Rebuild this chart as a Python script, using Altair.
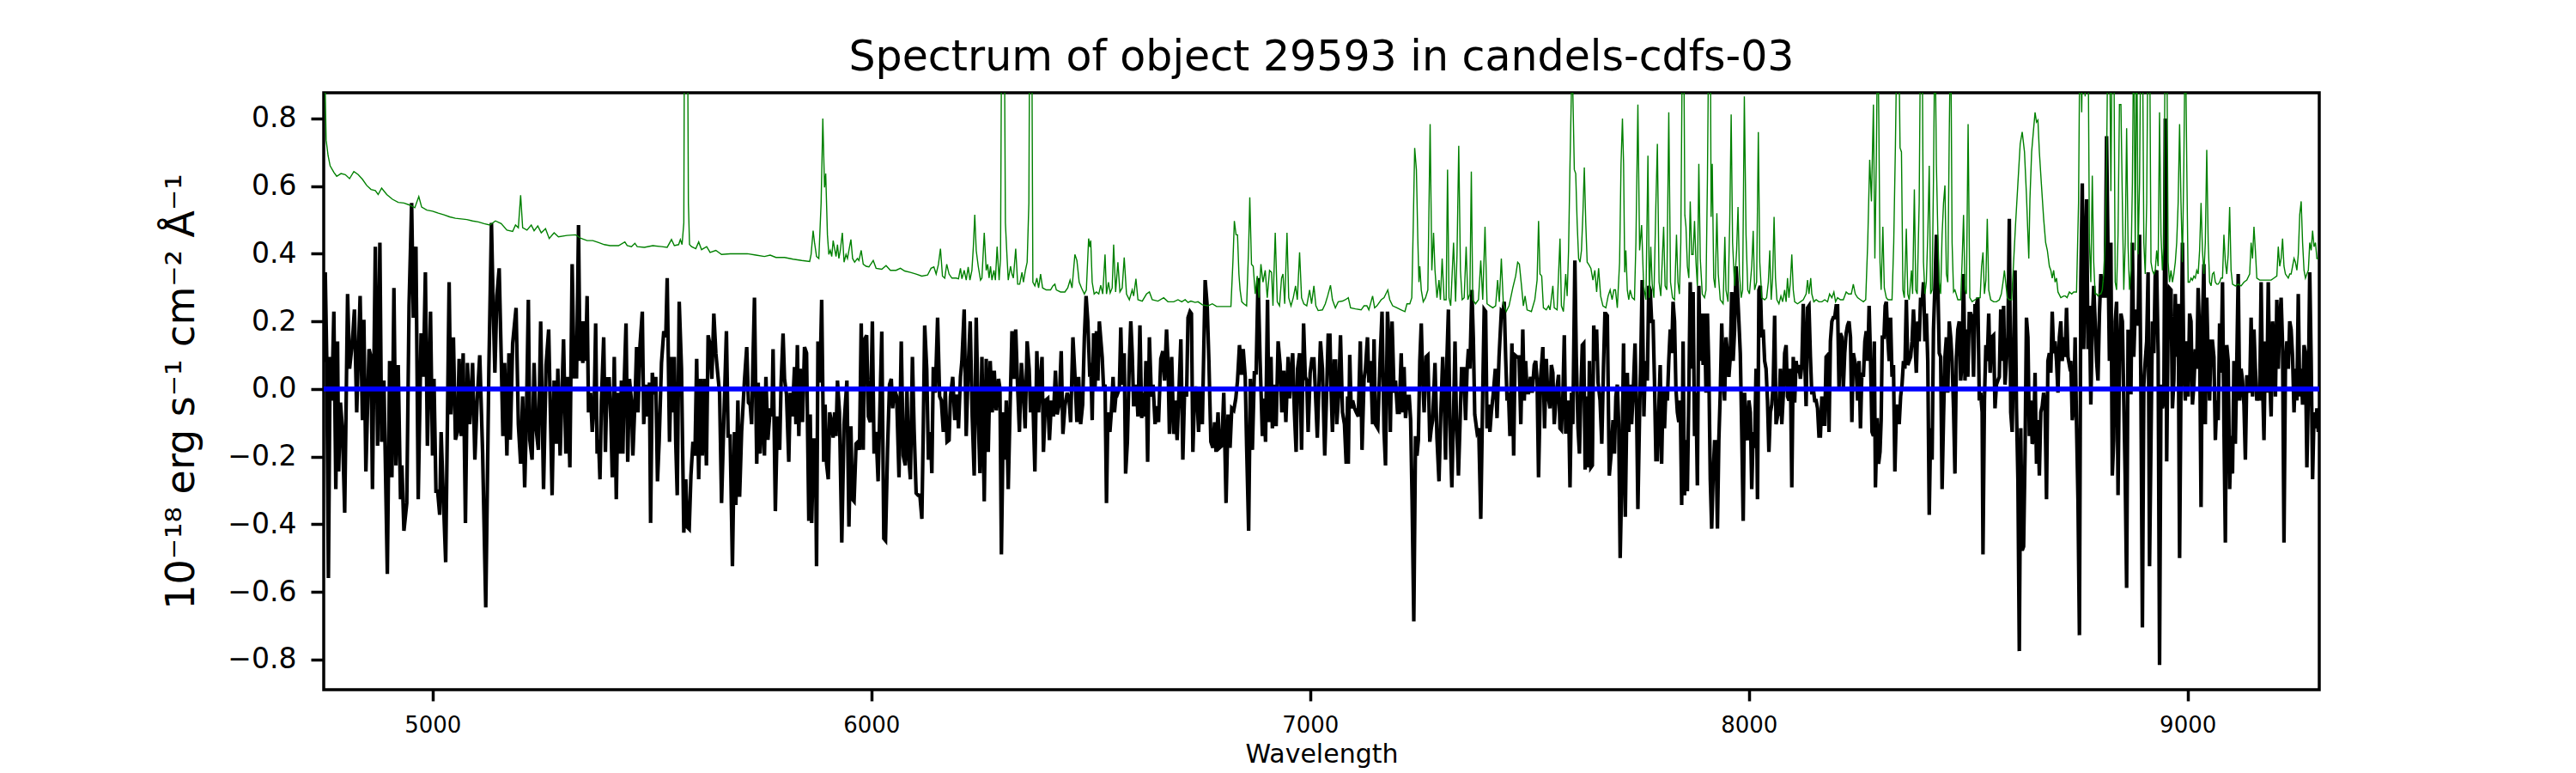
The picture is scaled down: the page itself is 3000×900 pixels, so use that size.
import altair as alt
import pandas as pd

TITLE = "Spectrum of object 29593 in candels-cdfs-03"
X_TITLE = "Wavelength"
Y_TITLE = "10⁻¹⁸ erg s⁻¹ cm⁻² Å⁻¹"
X_TICKS = [5000, 6000, 7000, 8000, 9000]
Y_TICKS = [-0.8, -0.6, -0.4, -0.2, 0.0, 0.2, 0.4, 0.6, 0.8]
X_DOMAIN = [4752, 9300]
Y_DOMAIN = [-0.889, 0.876]
ZERO_LEVEL = [0.0]

# ---- object flux (black), (wavelength, flux) ----
flux_4750 = [(4752.0,0.08),(4755.5,0.345),(4758.8,0.095),(4762.7,-0.559),(4766.6,0.095),(4770.5,-0.034),(4775.1,0.229),(4779.6,-0.296),(4783.5,0.141),(4786.1,-0.244),(4790.1,-0.04),(4794.6,-0.116),(4799.8,-0.366),(4806.4,0.281),(4810.9,0.06),(4817.4,0.141),(4822.0,0.235),(4827.2,-0.069),(4830.5,0.083),(4835.0,0.275),(4840.3,-0.092),(4843.5,0.205),(4848.1,-0.244),(4855.3,0.118),(4859.8,0.095),(4863.1,-0.296),(4869.6,0.421),(4874.8,-0.168),(4880.0,0.433),(4884.0,-0.156),(4889.2,0.025),(4897.0,-0.547),(4902.2,0.083),(4907.4,-0.261),(4912.0,0.299),(4916.5,-0.226),(4921.8,0.071),(4927.0,-0.326),(4930.2,-0.226),(4934.8,-0.419),(4941.3,-0.337),(4946.5,0.246),(4952.4,0.55),(4956.3,0.211),(4962.2,0.421),(4967.4,-0.326),(4973.9,0.165),(4979.1,0.036),(4983.7,0.345),(4988.3,-0.168),(4995.4,0.229),(5000.0,-0.197),(5003.3,0.03),(5007.8,-0.302),(5011.7,-0.302),(5016.3,-0.372),(5019.6,-0.127),(5023.5,-0.279),(5030.0,-0.512),(5037.8,0.316),(5041.7,-0.075),(5047.6,0.153),(5052.2,-0.15),(5056.7,-0.127),(5060.6,0.089),(5065.2,-0.139),(5069.8,0.106),(5075.0,-0.396),(5079.5,0.077),(5084.8,-0.104),(5091.3,0.077),(5096.5,-0.209),(5101.7,-0.034),(5107.6,0.1),(5114.1,-0.186),(5121.3,-0.646),(5128.4,0.06),(5134.3,0.491),(5138.2,0.246),(5142.1,0.048),(5146.7,0.275),(5151.9,0.357),(5156.5,0.095),(5160.4,-0.139),(5164.3,0.077),(5169.5,-0.197),(5174.1,0.106),(5177.3,-0.15),(5182.6,0.135),(5190.4,0.24),(5195.6,-0.104),(5200.8,-0.221),(5205.4,-0.022),(5210.0,-0.291),(5213.9,-0.092),(5218.4,0.264),(5221.7,-0.15),(5226.9,-0.209),(5231.5,0.077),(5236.0,-0.116),(5241.2,-0.18),(5246.5,0.2),(5253.0,-0.296),(5258.8,0.071),(5264.7,0.176),(5272.5,-0.314),(5277.1,0.025),(5282.3,-0.162),(5285.6,0.06),(5290.8,-0.197),(5298.6,0.147),(5303.8,-0.191),(5307.7,0.036),(5313.0,-0.232),(5318.2,0.369),(5322.8,0.036)]

flux_5330 = [(5328.2,0.036),(5332.7,0.485),(5336.0,0.083),(5339.2,0.2),(5342.5,0.077),(5345.8,0.2),(5349.0,0.083),(5352.3,0.275),(5355.5,-0.069),(5360.1,-0.011),(5364.0,-0.127),(5368.6,-0.034),(5371.8,0.194),(5375.1,-0.191),(5378.4,-0.15),(5381.6,-0.267),(5384.9,-0.034),(5390.1,0.153),(5394.0,-0.186),(5397.9,0.03),(5402.5,0.03),(5406.4,-0.092),(5409.7,-0.261),(5414.2,0.095),(5418.8,-0.326),(5422.7,-0.011),(5427.3,-0.191),(5430.5,0.025),(5433.8,-0.191),(5437.0,0.025),(5441.0,0.194),(5444.9,-0.215),(5448.8,0.03),(5453.3,-0.034),(5456.6,-0.197),(5461.8,-0.022),(5465.1,0.124),(5468.3,-0.069),(5472.9,0.13),(5478.1,0.229),(5481.4,-0.104),(5485.9,0.013),(5490.5,-0.081),(5494.4,0.019),(5497.0,-0.396),(5500.9,0.048),(5504.8,-0.016),(5508.8,0.036),(5512.7,-0.273),(5516.6,-0.151),(5521.8,0.077),(5527.0,0.171),(5531.6,0.153),(5534.8,0.328),(5540.1,-0.156),(5544.6,0.095),(5547.9,-0.069),(5551.1,0.095),(5554.4,-0.162),(5557.7,-0.314),(5562.2,0.258),(5567.4,0.06),(5572.7,-0.425),(5577.2,-0.267),(5580.5,-0.408),(5585.0,-0.414),(5588.9,-0.256),(5593.5,-0.156),(5598.1,-0.197),(5602.0,0.089),(5606.6,-0.267),(5611.1,0.03),(5615.0,-0.197),(5619.6,0.03),(5624.2,-0.226),(5628.1,0.159),(5632.6,0.13),(5636.6,0.03),(5641.1,0.223),(5645.7,0.106),(5650.2,0.042),(5654.2,-0.011),(5658.7,-0.337),(5663.9,-0.092),(5669.8,0.171),(5673.7,-0.139),(5678.3,-0.139),(5683.5,-0.524),(5688.1,-0.127),(5691.3,-0.343),(5695.9,-0.034),(5699.8,-0.319),(5704.4,-0.127),(5710.9,0.025),(5716.1,0.124),(5720.0,-0.04),(5724.0,-0.046),(5727.2,-0.104),(5730.4,0.089),(5733.7,0.27),(5738.9,-0.221),(5742.2,0.019),(5746.7,-0.191),(5751.3,0.001),(5756.5,-0.197),(5759.8,0.036),(5764.3,-0.15),(5769.6,-0.057),(5773.5,-0.081),(5776.1,0.118),(5781.3,-0.361),(5785.9,-0.081),(5791.1,-0.18),(5794.3,0.013),(5798.9,0.164),(5802.2,0.03),(5806.7,-0.016),(5811.9,-0.215),(5815.2,-0.011),(5819.8,-0.081),(5825.0,0.065),(5828.2,-0.104),(5831.5,0.13),(5834.8,-0.139),(5838.0,0.06),(5843.2,-0.098),(5847.8,0.124),(5852.4,0.106),(5857.6,-0.39),(5860.8,-0.075),(5864.1,-0.396),(5868.7,-0.151),(5872.6,-0.151),(5875.2,-0.524),(5878.4,0.141),(5883.0,0.019),(5886.9,0.264),(5891.5,-0.215),(5894.7,-0.046),(5898.0,-0.221),(5901.9,-0.267),(5905.2,-0.069),(5909.7,-0.104)]

flux_5910 = [(5913.1,-0.144),(5916.4,-0.069),(5919.6,-0.139),(5922.9,0.025),(5927.4,-0.069),(5932.7,-0.454),(5937.9,-0.104),(5944.4,0.025),(5949.0,-0.407),(5953.5,-0.11),(5956.8,-0.326),(5960.7,-0.332),(5965.3,-0.162),(5969.8,-0.156),(5973.1,-0.18),(5977.0,0.194),(5981.6,-0.18),(5984.8,0.147),(5989.4,0.159),(5993.3,-0.081),(5997.9,-0.098),(6002.4,0.2),(6006.3,-0.191),(6010.9,-0.127),(6015.5,-0.273),(6019.4,-0.069),(6023.9,0.17),(6028.5,-0.442),(6032.4,-0.448),(6037.0,-0.18),(6041.5,0.013),(6045.5,0.03),(6048.7,-0.057),(6052.6,0.001),(6057.8,-0.022),(6063.1,-0.261),(6068.3,0.141),(6072.8,-0.197),(6077.4,-0.226),(6081.3,0.001),(6084.6,-0.186),(6089.1,-0.267),(6093.7,0.095),(6097.6,-0.121),(6102.2,-0.308),(6106.7,-0.314),(6110.7,-0.314),(6115.2,-0.384),(6118.5,-0.116),(6121.7,0.188),(6126.3,0.06),(6130.2,-0.209),(6134.8,-0.127),(6138.0,-0.249),(6141.3,0.065),(6145.9,-0.011),(6151.1,0.211),(6155.7,-0.022),(6159.6,-0.034),(6164.1,-0.127),(6168.7,-0.005),(6172.6,-0.156),(6177.2,-0.151),(6180.4,-0.022),(6185.6,0.036),(6190.2,-0.092),(6195.4,-0.016),(6198.7,-0.116),(6203.2,0.036),(6206.5,0.083),(6211.7,0.235),(6216.3,-0.139),(6220.8,0.06),(6225.4,0.2),(6230.0,-0.081),(6234.5,-0.256),(6239.1,0.211),(6243.7,-0.081),(6247.6,-0.249),(6252.1,0.095),(6257.4,-0.332),(6261.9,0.089),(6266.5,-0.186),(6271.0,0.083),(6275.6,-0.069),(6280.2,0.054),(6284.7,-0.063),(6290.0,0.03),(6293.2,0.001),(6296.5,-0.489),(6301.0,-0.069),(6304.3,-0.209),(6307.6,-0.034),(6312.1,-0.296),(6316.0,-0.069),(6320.6,0.171),(6325.2,0.03),(6329.1,0.176),(6333.6,0.001),(6337.6,-0.127),(6342.1,0.077),(6346.7,-0.011),(6350.6,-0.116),(6355.2,0.141),(6359.7,0.06),(6363.0,-0.069),(6367.6,0.001),(6372.8,-0.244),(6377.3,0.112),(6381.3,-0.069),(6384.5,0.013),(6389.1,0.095),(6392.3,-0.186),(6396.9,-0.034),(6402.1,-0.028),(6406.0,-0.151),(6410.6,-0.034),(6415.1,-0.081),(6419.7,0.054),(6423.6,-0.075),(6428.2,-0.046),(6432.8,0.112),(6436.7,-0.133),(6441.2,-0.051),(6446.4,-0.011),(6451.0,-0.034),(6454.3,-0.098),(6459.5,0.153),(6464.0,0.042),(6468.6,-0.098),(6472.5,0.036),(6477.1,-0.104),(6481.6,-0.046),(6485.6,0.153),(6489.5,0.275),(6493.4,0.2),(6498.0,0.036)]

flux_6500 = [(6500.1,0.077),(6503.4,-0.092),(6506.6,0.165),(6509.9,0.001),(6513.1,0.171),(6516.4,0.025),(6519.7,0.2),(6526.2,0.095),(6529.4,0.001),(6532.7,0.013),(6536.0,-0.337),(6539.2,-0.069),(6543.8,-0.127),(6547.0,-0.069),(6551.0,0.036),(6554.2,-0.069),(6558.8,0.001),(6562.0,-0.011),(6565.3,0.001),(6568.6,0.182),(6571.8,0.013),(6576.4,0.106),(6579.6,-0.25),(6583.6,-0.156),(6588.1,0.083),(6591.4,0.2),(6594.6,0.106),(6597.9,-0.046),(6601.2,-0.046),(6604.4,0.013),(6607.7,-0.081),(6612.2,0.188),(6616.2,-0.086),(6619.4,-0.011),(6622.7,-0.081),(6625.9,0.083),(6629.8,-0.215),(6633.8,0.153),(6638.3,-0.022),(6642.2,0.013),(6646.8,-0.104),(6650.1,-0.051),(6654.6,-0.098),(6659.8,0.089),(6664.4,0.112),(6668.3,0.025),(6672.9,0.176),(6676.1,0.083),(6679.4,-0.133),(6684.6,0.095),(6689.2,-0.133),(6692.4,-0.034),(6697.0,-0.151),(6700.9,-0.016),(6705.5,0.147),(6710.0,-0.209),(6714.0,-0.005),(6718.5,-0.022),(6721.8,0.211),(6726.3,0.229),(6729.6,0.223),(6732.9,-0.186),(6736.8,-0.011),(6741.3,0.007),(6745.9,-0.127),(6749.8,0.001),(6754.4,-0.104),(6760.9,0.322),(6765.5,0.246),(6769.4,0.083),(6773.9,-0.156),(6778.5,-0.174),(6782.4,-0.098),(6785.7,-0.186),(6790.2,-0.069),(6793.5,-0.174),(6798.7,-0.168),(6803.3,-0.011),(6808.5,-0.337),(6813.1,-0.075),(6817.6,-0.174),(6821.5,-0.057),(6826.1,-0.063),(6830.7,-0.028),(6834.6,0.025),(6839.1,0.13),(6843.7,0.042),(6847.6,0.118),(6852.2,0.036),(6855.4,-0.168),(6860.0,-0.419),(6863.9,0.03),(6868.5,-0.18),(6873.0,0.048),(6877.0,0.048),(6881.5,0.328),(6886.1,0.083),(6891.3,-0.139),(6894.6,-0.028),(6898.5,-0.156),(6903.0,0.264),(6906.3,-0.098),(6910.9,0.095),(6914.1,-0.116),(6918.7,0.013),(6922.6,-0.11),(6927.2,0.141),(6931.7,0.071),(6935.6,-0.069),(6940.2,0.054),(6944.8,-0.098),(6950.0,0.095),(6953.2,-0.028),(6956.5,0.036),(6960.4,0.106),(6964.3,-0.069),(6968.2,-0.186),(6971.5,0.06),(6976.1,0.106),(6980.6,-0.18),(6985.2,0.194),(6989.1,0.036),(6992.4,0.025),(6995.6,-0.127),(7000.2,0.048),(7004.1,0.089),(7008.7,0.089),(7011.9,0.001),(7016.5,-0.144),(7019.7,-0.011),(7023.7,0.141),(7028.2,0.06),(7033.4,-0.197),(7038.0,0.001),(7041.3,0.159),(7045.2,0.159),(7047.8,0.001),(7051.0,-0.127),(7055.0,0.083),(7058.2,0.083),(7060.8,-0.104),(7065.4,-0.011),(7069.3,0.159),(7073.9,-0.069),(7078.4,-0.104),(7082.3,-0.221),(7085.6,-0.022)]

flux_7090 = [(7087.1,-0.221),(7090.4,0.101),(7093.6,-0.057),(7096.9,-0.034),(7101.4,-0.057),(7105.4,-0.069),(7109.9,-0.081),(7114.5,0.141),(7118.4,-0.18),(7123.0,0.03),(7126.2,0.06),(7130.8,0.153),(7134.0,0.019),(7138.0,0.083),(7142.5,-0.104),(7145.8,0.147),(7149.0,-0.104),(7154.3,-0.116),(7158.8,0.06),(7164.0,0.229),(7168.6,-0.127),(7171.9,-0.226),(7176.4,0.229),(7179.7,0.141),(7182.9,-0.127),(7186.9,0.2),(7191.4,-0.011),(7194.7,0.025),(7199.2,-0.069),(7203.2,-0.069),(7207.7,0.106),(7211.0,-0.069),(7214.2,0.065),(7217.5,-0.086),(7222.1,-0.022),(7226.0,-0.022),(7229.2,-0.092),(7232.5,-0.326),(7236.4,-0.687),(7240.3,-0.139),(7243.6,-0.197),(7246.8,-0.151),(7250.1,0.083),(7253.4,0.194),(7256.6,0.036),(7259.9,-0.069),(7264.4,0.095),(7268.4,0.1),(7272.9,-0.156),(7276.2,-0.116),(7279.4,-0.092),(7284.7,0.077),(7289.2,-0.145),(7293.8,-0.273),(7297.7,-0.081),(7302.3,0.095),(7306.2,-0.057),(7308.8,-0.209),(7312.0,0.095),(7315.3,0.235),(7318.6,-0.104),(7323.1,-0.291),(7327.0,-0.075),(7330.3,0.141),(7333.6,-0.092),(7338.1,-0.256),(7341.4,-0.116),(7345.3,0.06),(7349.9,0.06),(7354.4,-0.092),(7357.7,0.054),(7360.9,0.118),(7364.2,0.06),(7368.8,0.293),(7372.0,0.153),(7375.3,-0.075),(7380.5,-0.127),(7384.4,-0.116),(7389.0,-0.384),(7393.5,-0.011),(7396.8,0.235),(7400.1,0.229),(7403.3,-0.116),(7406.6,-0.046),(7409.8,-0.127),(7413.1,-0.069),(7417.7,-0.011),(7422.2,0.06),(7426.1,-0.086),(7430.7,0.095),(7435.9,0.229),(7439.2,0.223),(7442.4,0.258),(7445.7,0.095),(7449.0,-0.034),(7452.2,-0.011),(7455.5,-0.139),(7460.0,0.135),(7464.0,-0.197),(7467.2,0.1),(7471.8,0.095),(7476.3,0.095),(7480.3,-0.104),(7484.8,0.176),(7488.1,-0.034),(7491.3,0.083),(7494.6,-0.011),(7497.9,-0.011),(7502.4,0.036),(7506.3,-0.011),(7510.9,0.071),(7514.2,0.083),(7517.4,0.025),(7520.7,-0.261),(7525.2,0.03),(7530.5,0.124),(7534.4,-0.116),(7538.3,0.089),(7541.6,-0.011),(7546.8,-0.057),(7550.0,0.071),(7553.3,0.048),(7556.5,-0.104),(7561.8,-0.005),(7566.3,0.042),(7569.6,-0.116),(7572.8,-0.121),(7576.1,-0.022),(7579.4,0.159),(7582.6,-0.127),(7585.9,-0.127),(7589.1,-0.034),(7592.4,-0.291),(7595.7,-0.011),(7598.9,-0.104),(7603.5,0.38),(7606.7,0.095),(7610.7,-0.116),(7613.9,-0.191),(7617.2,-0.011),(7620.4,0.13),(7623.7,0.135),(7626.9,-0.238),(7630.2,-0.022),(7633.5,-0.232),(7636.7,0.083),(7640.0,-0.232),(7643.3,-0.226),(7646.5,0.188),(7649.8,0.083),(7653.0,0.176),(7656.3,0.019),(7660.9,-0.034),(7664.8,-0.162),(7668.7,0.065),(7672.0,0.223)]

flux_7675 = [(7674.1,0.223),(7677.4,0.217),(7681.9,-0.256),(7685.8,-0.197),(7690.4,-0.092),(7693.7,-0.191),(7696.9,-0.022),(7700.2,0.013),(7703.4,-0.104),(7706.7,-0.5),(7710.0,-0.291),(7714.5,0.135),(7718.4,-0.378),(7723.0,0.048),(7726.3,-0.127),(7729.5,0.013),(7732.8,-0.104),(7736.7,0.001),(7740.6,0.135),(7744.5,-0.092),(7747.1,-0.355),(7751.0,-0.069),(7753.6,0.083),(7756.9,0.322),(7760.8,-0.081),(7764.1,0.083),(7768.6,0.025),(7771.9,0.305),(7775.2,0.293),(7778.4,0.2),(7781.7,0.2),(7784.9,0.025),(7788.2,-0.209),(7791.5,-0.209),(7794.7,-0.057),(7798.0,0.071),(7801.2,-0.221),(7804.5,0.001),(7807.8,-0.116),(7811.0,0.001),(7814.3,-0.034),(7817.5,0.083),(7820.8,0.176),(7824.1,0.106),(7827.3,0.258),(7830.6,0.2),(7833.8,0.001),(7837.1,-0.069),(7840.4,-0.098),(7843.6,-0.034),(7846.9,-0.343),(7850.1,0.141),(7853.4,-0.314),(7856.7,-0.151),(7859.9,-0.302),(7863.2,-0.011),(7866.4,0.316),(7869.7,0.06),(7873.0,0.287),(7876.2,-0.139),(7879.5,-0.011),(7882.7,-0.285),(7886.0,0.305),(7889.3,0.083),(7892.5,0.223),(7895.8,0.071),(7899.0,0.223),(7902.3,-0.011),(7905.6,0.223),(7908.8,0.06),(7912.1,-0.267),(7915.3,-0.413),(7918.6,-0.256),(7921.9,-0.156),(7925.1,-0.156),(7928.4,-0.413),(7931.6,-0.151),(7934.9,-0.011),(7938.2,0.194),(7941.4,0.036),(7944.7,-0.034),(7947.9,0.153),(7951.2,0.106),(7954.5,0.036),(7957.7,0.095),(7961.0,0.287),(7964.2,0.083),(7967.5,0.176),(7970.8,0.363),(7974.0,0.293),(7977.3,0.2),(7980.5,0.106),(7983.8,-0.127),(7987.1,-0.39),(7990.3,-0.011),(7993.6,-0.139),(7996.8,-0.151),(8000.1,-0.034),(8003.4,-0.069),(8006.6,-0.296),(8009.9,-0.127),(8013.1,-0.174),(8016.4,0.06),(8019.7,-0.326),(8022.9,0.293),(8026.2,0.305),(8029.4,0.153),(8032.7,0.176),(8036.0,0.083),(8039.2,0.06),(8042.5,-0.034),(8045.7,-0.186),(8049.0,-0.069),(8052.3,-0.046),(8055.5,0.013),(8058.8,0.217),(8062.0,-0.104),(8065.3,-0.081),(8068.6,-0.069),(8071.8,0.06),(8075.1,-0.104),(8078.3,-0.022),(8081.6,0.106),(8084.9,0.13),(8088.1,-0.022),(8091.4,-0.034),(8094.6,0.06),(8097.9,-0.291),(8101.2,0.095),(8104.4,-0.04),(8107.7,0.083),(8110.9,0.048),(8114.2,0.071),(8117.5,0.03),(8120.7,0.071),(8124.0,0.252),(8127.2,0.095),(8130.5,-0.051),(8133.8,0.24),(8137.0,0.246),(8140.3,0.095),(8143.5,-0.016),(8146.8,0.001),(8150.1,-0.034),(8153.3,-0.034),(8156.6,-0.057),(8159.8,-0.139),(8163.1,-0.139),(8166.4,-0.022),(8169.6,-0.104),(8172.9,-0.104),(8176.1,0.095),(8179.4,0.1),(8182.7,-0.127),(8185.9,0.141),(8189.2,0.2),(8192.4,0.211),(8195.7,0.211),(8199.0,0.246),(8202.2,0.246),(8205.5,0.001),(8208.7,0.165),(8212.0,0.153),(8215.3,0.001),(8218.5,0.106),(8221.8,0.165),(8225.0,0.188),(8228.3,0.2),(8231.6,0.153),(8234.8,-0.098),(8238.1,0.106),(8241.3,0.083),(8244.6,0.06),(8247.9,-0.034),(8251.1,0.083),(8254.4,-0.116),(8257.6,0.048)]

flux_8260 = [(8261.1,0.036),(8264.4,0.141),(8267.6,0.171),(8270.9,0.083),(8274.1,0.246),(8277.4,0.083),(8280.7,-0.127),(8283.9,-0.139),(8285.9,0.141),(8288.5,-0.291),(8292.4,-0.086),(8295.7,-0.221),(8298.9,-0.186),(8301.5,-0.092),(8304.1,0.153),(8308.0,0.153),(8310.7,0.246),(8313.3,0.258),(8316.5,0.153),(8319.8,0.083),(8323.0,0.211),(8326.3,0.036),(8329.6,0.071),(8332.8,-0.244),(8336.1,-0.069),(8339.3,-0.046),(8342.6,-0.104),(8345.9,-0.022),(8349.1,0.013),(8352.4,0.083),(8355.6,0.06),(8358.9,0.264),(8362.2,0.071),(8365.4,0.083),(8368.7,0.095),(8371.9,0.141),(8375.2,0.235),(8378.5,0.141),(8381.7,0.048),(8385.0,0.2),(8388.2,0.141),(8391.5,0.27),(8394.8,0.246),(8398.0,0.316),(8401.3,0.141),(8404.5,0.223),(8407.8,0.083),(8411.1,-0.372),(8414.3,-0.116),(8417.6,-0.209),(8420.8,0.176),(8424.1,0.305),(8427.4,0.456),(8430.6,0.316),(8433.9,0.106),(8437.1,0.095),(8440.4,-0.296),(8443.7,-0.081),(8446.9,0.095),(8450.2,0.153),(8453.4,-0.011),(8456.7,0.2),(8460.0,0.153),(8463.2,0.083),(8466.5,-0.057),(8469.7,-0.25),(8473.0,0.095),(8476.3,0.176),(8479.5,0.2),(8482.8,0.025),(8486.0,0.083),(8489.3,0.34),(8492.6,0.025),(8495.8,0.176),(8499.1,0.036),(8502.3,0.223),(8505.6,0.223),(8508.9,0.211),(8512.1,0.036),(8515.4,0.246),(8518.6,0.246),(8521.9,0.27),(8525.2,-0.034),(8528.4,-0.011),(8531.7,-0.069),(8533.6,-0.489),(8536.9,-0.034),(8540.2,0.13),(8543.4,0.083),(8546.7,0.223),(8549.9,0.048),(8553.2,0.153),(8557.8,0.159),(8561.0,-0.057),(8564.3,0.013),(8567.5,0.025),(8570.8,0.036),(8574.1,0.235),(8577.3,0.083),(8580.6,0.246),(8583.8,0.013),(8587.1,0.083),(8590.4,0.153),(8593.6,0.503),(8596.9,-0.069),(8600.1,-0.127),(8603.4,0.118),(8606.7,0.351),(8609.9,-0.057),(8613.2,-0.267),(8616.4,-0.775),(8619.7,-0.116),(8623.0,-0.477),(8626.2,-0.466),(8629.5,-0.186),(8632.7,0.211),(8636.0,0.153),(8639.3,-0.139),(8642.5,-0.034),(8645.8,-0.162),(8649.0,-0.151),(8652.3,0.048),(8655.6,-0.221),(8658.8,-0.092),(8662.1,-0.256),(8665.3,-0.069),(8668.6,-0.051),(8671.9,-0.011),(8675.1,-0.057),(8678.4,-0.326),(8681.6,0.083),(8684.9,0.106),(8688.2,0.048),(8691.4,0.229),(8694.7,0.106),(8697.9,0.141),(8701.2,0.083),(8704.5,-0.011),(8707.7,0.153),(8711.0,0.2),(8714.2,0.083),(8717.5,0.153),(8720.8,0.095),(8724.0,0.24),(8727.3,0.095),(8730.5,0.071),(8733.8,0.083),(8737.1,-0.092),(8740.3,-0.057),(8743.6,0.153),(8746.8,-0.104),(8750.1,-0.326),(8753.4,-0.728),(8756.6,0.316),(8759.9,0.608),(8763.1,0.118),(8766.4,0.375),(8769.7,0.561),(8772.9,0.118),(8776.2,0.246),(8779.4,-0.046),(8782.7,0.2),(8786.0,0.305),(8789.2,0.2),(8792.5,0.083),(8795.7,0.025),(8799.0,0.223),(8802.3,0.34),(8805.5,0.27),(8808.8,0.316),(8812.0,0.27),(8815.3,0.748),(8818.6,0.398),(8821.8,0.083),(8825.1,0.433),(8828.3,-0.256),(8831.6,-0.151),(8834.9,0.2),(8838.1,0.258),(8841.4,-0.314),(8844.6,0.083)]

flux_8850 = [(8848.0,0.223),(8851.3,0.2),(8854.5,-0.034),(8857.8,-0.267),(8861.0,-0.588),(8864.3,0.176),(8867.6,0.106),(8870.8,-0.016),(8874.1,0.433),(8877.3,0.095),(8880.6,0.235),(8883.9,0.188),(8887.1,0.2),(8890.4,0.456),(8893.6,-0.011),(8896.9,-0.705),(8900.2,0.013),(8903.4,0.083),(8906.7,0.141),(8909.9,0.345),(8913.2,-0.524),(8916.5,-0.151),(8919.7,0.2),(8923.0,0.106),(8926.2,0.34),(8929.5,0.351),(8932.8,0.106),(8936.0,-0.816),(8939.3,0.013),(8942.5,-0.057),(8945.8,-0.034),(8949.1,0.8),(8952.3,-0.214),(8955.6,0.2),(8958.8,0.298),(8962.1,0.293),(8965.4,-0.057),(8968.6,0.025),(8971.9,0.281),(8975.1,0.095),(8978.4,0.252),(8981.7,-0.5),(8984.9,0.025),(8988.2,0.433),(8991.4,0.06),(8994.7,-0.034),(8998.0,0.141),(9001.2,-0.022),(9004.5,0.223),(9007.7,0.2),(9011.0,-0.046),(9014.3,0.013),(9017.5,0.118),(9020.8,0.06),(9024.0,0.299),(9027.3,0.153),(9030.6,-0.349),(9033.8,0.2),(9037.1,0.369),(9040.3,-0.104),(9043.6,0.27),(9046.9,0.083),(9050.1,-0.034),(9053.4,0.141),(9056.6,0.141),(9059.9,0.095),(9063.2,-0.151),(9066.4,-0.034),(9069.7,-0.092),(9072.9,0.194),(9076.2,0.048),(9079.5,0.316),(9082.7,-0.104),(9086.0,-0.454),(9089.2,0.13),(9092.5,0.083),(9095.8,-0.296),(9099.0,-0.139),(9102.3,-0.25),(9105.5,0.083),(9108.8,-0.162),(9112.1,0.083),(9115.3,0.34),(9118.6,-0.034),(9121.8,0.06),(9125.1,0.025),(9128.4,-0.046),(9131.6,-0.209),(9134.9,0.036),(9138.1,0.036),(9141.4,-0.011),(9144.7,0.211),(9147.9,-0.022),(9151.2,0.176),(9154.4,0.06),(9157.7,-0.034),(9161.0,-0.011),(9164.2,-0.034),(9167.5,0.316),(9170.7,0.025),(9174.0,-0.151),(9177.3,0.141),(9180.5,-0.011),(9183.8,0.316),(9187.0,0.036),(9190.3,-0.081),(9193.6,0.2),(9196.8,0.153),(9200.1,-0.022),(9203.3,0.264),(9206.6,0.06),(9209.9,0.2),(9213.1,0.27),(9216.4,0.13),(9219.6,-0.454),(9222.9,0.071),(9226.2,0.141),(9229.4,0.06),(9232.7,0.2),(9235.9,0.176),(9239.2,0.095),(9242.5,-0.069),(9245.7,0.06),(9249.0,-0.034),(9252.2,0.281),(9255.5,-0.022),(9258.8,0.06),(9262.0,-0.046),(9265.3,0.13),(9268.5,0.106),(9271.8,-0.232),(9275.1,-0.011),(9278.3,0.345),(9281.6,0.083),(9284.8,-0.267),(9288.1,-0.069),(9291.4,-0.116),(9294.6,-0.057),(9297.9,-0.127)]

# ---- sky spectrum (green), (wavelength, level) ----
sky_4750 = [(4752.0,0.95),(4755.5,0.876),(4757.5,0.736),(4762.0,0.69),(4766.6,0.66),(4775.1,0.641),(4781.6,0.629),(4791.4,0.637),(4801.1,0.634),(4810.9,0.622),(4820.7,0.643),(4830.5,0.634),(4840.3,0.62),(4850.0,0.602),(4859.8,0.59),(4869.6,0.587),(4876.1,0.575),(4884.0,0.594),(4895.7,0.575),(4908.7,0.561),(4921.8,0.552),(4934.8,0.55),(4947.8,0.544),(4959.6,0.536),(4968.7,0.569),(4975.2,0.538),(4987.0,0.529),(5000.0,0.526),(5013.0,0.52),(5026.1,0.515),(5039.1,0.509),(5052.2,0.505),(5065.2,0.503),(5078.2,0.501),(5091.3,0.497),(5104.3,0.494),(5117.4,0.489),(5130.4,0.485),(5143.4,0.497),(5156.5,0.489),(5169.5,0.47),(5182.6,0.466),(5189.1,0.485),(5195.6,0.477),(5200.8,0.573),(5205.4,0.477),(5215.2,0.47),(5225.0,0.485),(5231.5,0.468),(5239.9,0.482),(5247.8,0.462),(5257.5,0.474),(5265.9,0.445),(5277.1,0.462),(5286.9,0.45),(5306.4,0.454),(5326.0,0.456)]

sky_5330 = [(5339.2,0.445),(5352.3,0.439),(5365.3,0.439),(5378.4,0.433),(5391.4,0.427),(5404.4,0.424),(5424.0,0.424),(5438.3,0.435),(5443.6,0.424),(5453.3,0.421),(5461.2,0.431),(5466.4,0.421),(5482.7,0.419),(5502.2,0.424),(5521.8,0.421),(5534.8,0.419),(5544.6,0.442),(5551.1,0.424),(5560.9,0.427),(5564.8,0.442),(5568.7,0.427),(5572.7,0.491),(5574.6,1.3),(5580.5,1.3),(5583.1,0.55),(5585.7,0.427),(5590.3,0.421),(5600.0,0.415),(5606.6,0.435),(5613.1,0.412),(5624.8,0.421),(5632.6,0.404),(5645.7,0.41),(5658.7,0.398),(5678.3,0.4),(5697.8,0.4),(5717.4,0.4),(5737.0,0.396),(5756.5,0.392),(5769.6,0.396),(5782.6,0.389),(5802.2,0.389),(5821.7,0.384),(5841.3,0.38),(5859.5,0.377),(5862.8,0.398),(5867.4,0.468),(5870.6,0.433),(5875.2,0.392),(5880.4,0.386),(5885.6,0.55),(5889.5,0.8),(5893.4,0.596),(5896.1,0.637),(5900.0,0.456),(5903.2,0.398),(5906.5,0.41),(5909.8,0.392)]

sky_5910 = [(5913.1,0.439),(5916.4,0.415),(5919.6,0.392),(5922.9,0.427),(5926.1,0.386),(5929.4,0.41),(5934.0,0.462),(5937.9,0.375),(5942.4,0.398),(5945.7,0.386),(5949.0,0.41),(5953.5,0.442),(5957.4,0.386),(5962.0,0.375),(5968.5,0.386),(5971.8,0.38),(5977.0,0.41),(5981.6,0.369),(5988.1,0.363),(5994.6,0.361),(6004.4,0.38),(6010.9,0.357),(6023.9,0.354),(6033.7,0.365),(6043.5,0.351),(6056.5,0.351),(6066.3,0.357),(6076.1,0.349),(6089.1,0.345),(6102.2,0.34),(6115.2,0.334),(6128.3,0.337),(6136.1,0.357),(6142.6,0.361),(6147.8,0.34),(6153.0,0.369),(6157.6,0.415),(6162.2,0.334),(6167.4,0.328),(6171.9,0.369),(6177.2,0.34),(6183.7,0.328),(6193.5,0.328),(6198.7,0.326),(6203.2,0.357),(6206.5,0.326),(6211.7,0.351),(6216.3,0.322),(6220.8,0.361),(6224.8,0.322),(6229.3,0.351),(6232.6,0.421),(6235.8,0.515),(6239.1,0.41),(6243.7,0.363),(6248.9,0.322),(6252.1,0.328),(6257.4,0.462),(6261.9,0.351),(6265.2,0.369),(6268.4,0.328),(6271.7,0.363),(6275.0,0.322),(6279.5,0.351),(6282.8,0.322),(6286.7,0.421),(6291.3,0.322),(6294.5,0.386),(6297.8,1.3),(6302.3,1.3),(6305.6,0.491),(6309.5,0.386),(6312.1,0.322),(6317.3,0.363),(6320.6,0.34),(6323.8,0.328),(6329.1,0.415),(6333.6,0.31),(6338.2,0.31),(6343.4,0.345),(6346.7,0.316),(6351.2,0.351),(6355.2,0.375),(6359.1,0.55),(6361.7,1.3),(6365.0,1.3),(6368.2,0.316),(6372.8,0.305),(6377.3,0.328),(6381.3,0.299),(6385.8,0.34),(6390.4,0.299),(6398.8,0.293),(6408.6,0.293),(6413.8,0.305),(6418.4,0.31),(6421.7,0.293),(6431.4,0.287),(6441.2,0.287),(6447.7,0.299),(6453.0,0.322),(6457.5,0.299),(6464.0,0.398),(6468.6,0.38),(6473.8,0.316),(6479.0,0.299),(6485.6,0.281),(6490.1,0.293),(6495.3,0.445),(6498.0,0.42)]

sky_6500 = [(6500.1,0.439),(6503.4,0.316),(6507.9,0.281),(6513.1,0.287),(6518.4,0.281),(6522.9,0.307),(6527.5,0.281),(6532.7,0.398),(6536.0,0.281),(6540.5,0.316),(6544.4,0.284),(6549.0,0.299),(6552.3,0.427),(6556.8,0.287),(6562.0,0.375),(6566.6,0.287),(6571.8,0.299),(6576.4,0.389),(6581.6,0.281),(6588.1,0.264),(6594.6,0.293),(6597.9,0.275),(6603.1,0.326),(6607.7,0.264),(6617.5,0.26),(6627.2,0.281),(6633.8,0.287),(6640.3,0.264),(6653.3,0.26),(6666.4,0.27),(6676.1,0.258),(6689.2,0.258),(6699.0,0.264),(6707.4,0.258),(6715.3,0.264),(6721.8,0.256),(6728.3,0.26),(6738.1,0.256),(6744.6,0.258),(6754.4,0.249),(6767.4,0.246),(6777.2,0.252),(6787.0,0.244),(6800.0,0.244),(6819.6,0.244),(6824.1,0.375),(6827.4,0.497),(6831.3,0.456),(6834.6,0.456),(6837.8,0.34),(6840.5,0.293),(6844.3,0.258),(6849.0,0.252),(6855.4,0.246),(6860.0,0.421),(6862.6,0.567),(6866.5,0.369),(6870.4,0.363),(6875.0,0.281),(6879.6,0.334),(6883.5,0.27),(6888.0,0.369),(6892.6,0.316),(6897.8,0.351),(6902.4,0.27),(6907.6,0.351),(6912.2,0.345),(6915.4,0.246),(6920.6,0.462),(6925.2,0.258),(6930.4,0.246),(6935.0,0.328),(6938.2,0.34),(6942.2,0.252),(6947.4,0.462),(6951.3,0.27),(6956.5,0.246),(6961.7,0.27),(6966.9,0.305),(6970.9,0.264),(6976.1,0.404),(6980.6,0.27),(6985.8,0.252),(6992.4,0.246),(6998.9,0.293),(7003.4,0.252),(7008.7,0.305),(7013.2,0.246),(7018.4,0.232),(7028.2,0.234),(7034.7,0.252),(7040.0,0.275),(7046.5,0.307),(7051.0,0.264),(7057.6,0.24),(7064.1,0.258),(7073.9,0.26),(7080.4,0.264)]

sky_7090 = [(7087.1,0.27),(7092.3,0.24),(7103.4,0.237),(7116.4,0.234),(7123.0,0.246),(7129.5,0.246),(7134.0,0.234),(7142.5,0.275),(7147.1,0.24),(7152.3,0.246),(7162.1,0.264),(7168.6,0.27),(7177.1,0.293),(7181.6,0.264),(7188.2,0.246),(7197.9,0.24),(7207.7,0.234),(7216.2,0.229),(7220.8,0.252),(7227.3,0.252),(7231.8,0.27),(7235.1,0.48),(7238.4,0.713),(7242.3,0.649),(7245.5,0.445),(7248.1,0.316),(7250.1,0.363),(7253.4,0.293),(7257.9,0.258),(7263.1,0.27),(7268.4,0.293),(7273.6,0.783),(7277.5,0.351),(7281.4,0.462),(7284.7,0.351),(7289.2,0.27),(7293.8,0.322),(7297.0,0.264),(7301.0,0.386),(7305.5,0.264),(7310.1,0.264),(7313.3,0.649),(7316.6,0.27),(7320.5,0.246),(7327.0,0.433),(7331.6,0.258),(7334.9,0.398),(7338.8,0.719),(7342.7,0.351),(7346.6,0.264),(7351.2,0.27),(7355.7,0.421),(7359.6,0.264),(7364.2,0.281),(7367.5,0.643),(7370.7,0.264),(7377.2,0.252),(7383.8,0.264),(7389.0,0.38),(7393.5,0.264),(7398.7,0.48),(7403.3,0.252),(7409.8,0.246),(7416.4,0.24),(7422.9,0.246),(7427.4,0.322),(7431.3,0.258),(7435.9,0.386),(7440.5,0.252),(7447.0,0.229),(7453.5,0.246),(7462.0,0.299),(7468.5,0.334),(7473.1,0.375),(7477.0,0.369),(7481.5,0.31),(7486.1,0.246),(7490.0,0.275),(7494.6,0.234),(7504.4,0.229),(7512.2,0.264),(7517.4,0.322),(7520.7,0.497),(7524.0,0.34),(7527.9,0.334),(7531.8,0.24),(7538.3,0.234),(7543.5,0.246),(7546.8,0.234),(7553.3,0.305),(7556.5,0.24),(7563.0,0.234),(7569.6,0.445),(7572.8,0.246),(7577.4,0.229),(7582.6,0.34),(7585.9,0.275),(7589.1,0.41),(7592.4,0.666),(7595.7,0.888),(7598.9,0.876),(7602.2,0.649),(7605.4,0.637),(7608.7,0.491),(7612.0,0.386),(7615.2,0.375),(7618.5,0.41),(7621.7,0.515),(7625.0,0.655),(7628.3,0.491),(7631.5,0.375),(7634.8,0.369),(7640.0,0.357),(7644.6,0.322),(7649.1,0.351),(7653.1,0.287),(7657.6,0.357),(7662.2,0.275),(7667.4,0.246)]

sky_7675 = [(7674.1,0.24),(7679.3,0.275),(7683.9,0.293),(7688.4,0.264),(7692.4,0.293),(7696.0,0.293),(7700.2,0.24),(7705.4,0.375),(7708.7,0.666),(7711.9,0.8),(7714.5,0.666),(7717.1,0.345),(7719.7,0.41),(7723.0,0.293),(7726.3,0.264),(7729.5,0.293),(7734.1,0.27),(7739.3,0.264),(7742.6,0.433),(7747.1,0.841),(7751.0,0.41),(7755.6,0.485),(7760.2,0.305),(7765.4,0.264),(7770.0,0.69),(7773.2,0.27),(7776.5,0.421),(7779.7,0.31),(7783.6,0.27),(7788.2,0.55),(7791.5,0.725),(7795.4,0.316),(7799.3,0.275),(7803.2,0.398),(7805.8,0.48),(7809.1,0.305),(7813.0,0.293),(7817.5,0.818),(7821.5,0.316),(7826.0,0.27),(7830.6,0.264),(7835.1,0.456),(7838.4,0.316),(7841.7,0.281),(7844.9,0.433),(7848.8,1.1),(7851.4,1.1),(7854.1,0.515),(7856.7,0.48),(7859.9,0.363),(7863.2,0.328),(7866.4,0.555),(7869.7,0.398),(7873.0,0.398),(7876.2,0.497),(7879.5,0.375),(7882.7,0.305),(7886.0,0.666),(7889.3,0.386),(7893.8,0.281),(7899.0,0.27),(7902.3,0.293),(7905.6,0.62),(7908.8,1.1),(7912.1,1.1),(7914.0,0.509),(7916.6,0.666),(7919.9,0.328),(7923.2,0.299),(7927.1,0.52),(7930.3,0.34),(7934.9,0.264),(7941.4,0.252),(7945.3,0.45),(7947.9,0.293),(7952.5,0.258),(7956.4,0.491),(7959.7,0.812),(7962.9,0.433),(7967.5,0.305),(7972.1,0.41),(7975.3,0.538),(7978.6,0.34),(7982.5,0.27),(7985.8,0.293),(7989.7,0.865),(7993.6,0.456),(7997.5,0.293),(8001.4,0.281),(8006.6,0.363),(8009.9,0.468),(8013.1,0.293),(8017.7,0.316),(8021.6,0.76),(8024.9,0.375),(8029.4,0.27),(8035.9,0.264),(8040.5,0.27),(8044.4,0.316),(8047.7,0.41),(8050.9,0.264),(8054.2,0.328),(8057.5,0.509),(8060.7,0.328),(8064.0,0.264),(8068.6,0.252),(8073.1,0.275),(8077.0,0.258),(8081.6,0.293),(8084.9,0.258),(8088.1,0.328),(8091.4,0.27),(8094.6,0.316),(8097.9,0.398),(8101.2,0.293),(8104.4,0.258),(8110.9,0.252),(8117.5,0.258),(8124.0,0.264),(8130.5,0.281),(8133.8,0.322),(8137.0,0.281),(8141.0,0.328),(8143.5,0.281),(8148.1,0.258),(8153.3,0.264),(8159.8,0.258),(8166.4,0.258),(8172.9,0.264),(8179.4,0.258),(8184.0,0.281),(8189.2,0.27),(8193.8,0.287),(8197.6,0.258),(8202.2,0.27),(8208.7,0.264),(8215.3,0.264),(8221.8,0.287),(8227.0,0.281),(8233.5,0.281),(8238.1,0.31),(8242.6,0.281),(8247.9,0.27),(8254.4,0.264)]

sky_8260 = [(8261.1,0.258),(8266.3,0.264),(8270.9,0.433),(8275.4,0.678),(8279.4,0.555),(8283.9,0.841),(8287.2,0.386),(8290.4,0.666),(8293.7,1.1),(8296.3,0.783),(8298.9,0.375),(8301.5,0.293),(8305.4,0.48),(8308.7,0.299),(8313.3,0.27),(8317.2,0.264),(8321.0,0.264),(8326.3,0.264),(8330.2,0.433),(8334.1,0.725),(8338.0,1.1),(8341.3,1.1),(8344.6,0.713),(8347.8,0.701),(8351.1,0.293),(8354.3,0.27),(8358.9,0.474),(8362.2,0.281),(8365.4,0.264),(8370.6,0.351),(8373.2,0.281),(8377.2,0.59),(8380.4,0.293),(8383.7,0.281),(8388.2,0.55),(8391.5,1.1),(8394.8,1.1),(8398.0,0.375),(8401.3,0.281),(8404.5,0.316),(8407.8,0.456),(8411.1,0.66),(8414.3,0.281),(8417.6,0.293),(8420.8,0.62),(8424.1,1.1),(8427.4,0.666),(8430.6,0.468),(8433.9,0.316),(8437.1,0.281),(8440.4,0.456),(8443.7,0.55),(8446.9,0.602),(8450.2,0.34),(8453.4,0.316),(8456.7,0.748),(8460.0,1.1),(8463.2,0.433),(8466.5,0.287),(8469.7,0.293),(8476.3,0.264),(8482.8,0.264),(8486.0,0.375),(8489.3,0.515),(8492.6,0.293),(8495.8,0.281),(8499.7,0.783),(8503.6,0.27),(8508.9,0.258),(8515.4,0.264),(8521.9,0.27),(8527.1,0.27),(8530.4,0.363),(8533.6,0.404),(8536.9,0.281),(8540.2,0.322),(8543.4,0.503),(8546.7,0.293),(8551.2,0.264),(8557.8,0.258),(8564.3,0.258),(8570.8,0.264),(8575.4,0.281),(8579.3,0.316),(8582.5,0.351),(8585.8,0.31),(8589.1,0.27),(8593.6,0.264),(8598.8,0.264),(8603.4,0.375),(8608.0,0.491),(8613.2,0.608),(8618.4,0.725),(8623.0,0.76),(8628.2,0.701),(8632.7,0.573),(8636.0,0.456),(8638.0,0.386),(8640.6,0.561),(8644.5,0.701),(8649.1,0.771),(8652.3,0.818),(8655.6,0.789),(8658.8,0.795),(8662.1,0.701),(8666.6,0.608),(8671.9,0.503),(8676.4,0.433),(8680.3,0.41),(8684.9,0.363),(8688.2,0.351),(8691.4,0.328),(8694.7,0.351),(8697.9,0.316),(8701.2,0.328),(8704.5,0.287),(8711.0,0.27),(8717.5,0.275),(8721.4,0.275),(8725.3,0.27),(8730.5,0.287),(8735.8,0.281),(8740.3,0.287),(8746.8,0.287),(8751.4,0.55),(8754.7,1.1),(8758.6,0.818),(8761.8,1.1),(8766.4,0.865),(8769.7,1.1),(8772.9,1.1),(8776.2,0.433),(8779.4,0.316),(8782.7,0.631),(8786.0,0.375),(8789.2,0.281),(8792.5,0.281),(8795.7,0.275),(8799.0,0.281),(8802.3,0.281),(8805.5,0.293),(8808.8,0.34),(8812.0,0.433),(8815.3,0.666),(8818.6,1.1),(8821.8,1.1),(8825.1,0.585),(8828.3,1.1),(8831.6,1.1),(8834.9,0.316),(8838.1,0.293),(8841.4,0.456),(8844.6,0.841)]

sky_8850 = [(8848.0,0.841),(8851.3,0.55),(8854.5,0.293),(8857.8,0.433),(8861.0,0.771),(8864.3,0.421),(8867.6,0.293),(8870.8,0.351),(8874.1,0.608),(8877.3,1.1),(8880.6,0.41),(8883.9,1.1),(8887.1,0.398),(8890.4,0.608),(8893.6,1.1),(8896.9,1.1),(8900.2,0.433),(8903.4,0.34),(8906.7,0.55),(8909.9,1.1),(8913.2,1.1),(8916.5,0.375),(8919.7,0.351),(8923.0,0.34),(8926.2,0.351),(8929.5,0.41),(8932.8,0.363),(8936.0,0.818),(8939.3,0.456),(8942.5,0.351),(8945.8,0.433),(8949.1,1.1),(8952.3,1.1),(8955.6,0.375),(8958.8,0.316),(8962.1,0.351),(8965.4,0.316),(8968.6,0.34),(8971.9,0.375),(8975.1,0.433),(8978.4,0.55),(8981.7,0.783),(8984.9,0.55),(8988.2,0.375),(8991.4,0.666),(8994.7,1.1),(8998.0,0.666),(9001.2,0.316),(9004.5,0.316),(9007.7,0.328),(9011.0,0.322),(9014.3,0.334),(9017.5,0.328),(9020.8,0.351),(9024.0,0.34),(9027.3,0.41),(9030.6,0.55),(9033.8,0.41),(9037.1,0.34),(9040.3,0.433),(9043.6,0.707),(9046.9,0.433),(9050.1,0.316),(9053.4,0.305),(9056.6,0.34),(9059.9,0.345),(9063.2,0.316),(9066.4,0.31),(9069.7,0.31),(9072.9,0.316),(9076.2,0.328),(9079.5,0.328),(9082.7,0.456),(9086.0,0.375),(9089.2,0.34),(9092.5,0.398),(9095.8,0.538),(9099.0,0.351),(9102.3,0.31),(9108.8,0.305),(9115.3,0.31),(9121.8,0.305),(9128.4,0.316),(9134.9,0.322),(9141.4,0.34),(9144.7,0.433),(9147.9,0.386),(9151.2,0.48),(9154.4,0.41),(9157.7,0.328),(9164.2,0.322),(9170.7,0.322),(9177.3,0.322),(9183.8,0.322),(9190.3,0.322),(9196.8,0.328),(9203.3,0.334),(9206.6,0.421),(9209.9,0.363),(9213.1,0.386),(9216.4,0.445),(9219.6,0.363),(9222.9,0.34),(9226.2,0.334),(9229.4,0.328),(9232.7,0.34),(9235.9,0.34),(9239.2,0.363),(9242.5,0.386),(9245.7,0.375),(9249.0,0.351),(9252.2,0.398),(9255.5,0.515),(9258.8,0.555),(9262.0,0.433),(9265.3,0.351),(9268.5,0.328),(9271.8,0.34),(9275.1,0.351),(9278.3,0.433),(9281.6,0.41),(9284.8,0.468),(9288.1,0.421),(9291.4,0.433),(9294.6,0.386),(9297.9,0.386)]

flux_segments = [flux_4750, flux_5330, flux_5910, flux_6500, flux_7090, flux_7675, flux_8260, flux_8850]
sky_segments = [sky_4750, sky_5330, sky_5910, sky_6500, sky_7090, sky_7675, sky_8260, sky_8850]


def to_frame(segments):
    rows = [p for seg in segments for p in seg]
    return pd.DataFrame(rows, columns=["wavelength", "value"])


flux_df = to_frame(flux_segments)
sky_df = to_frame(sky_segments)
zero_df = pd.DataFrame({"value": ZERO_LEVEL})

FONT = "DejaVu Sans"
PLOT_W, PLOT_H = 2324, 695

x_enc = alt.X(
    "wavelength:Q",
    scale=alt.Scale(domain=X_DOMAIN, nice=False, zero=False),
    axis=alt.Axis(
        values=X_TICKS, format="d", title=X_TITLE,
        tickSize=13, labelFontSize=26, labelPadding=15, labelFlush=False,
        titleFontSize=30, titleX=PLOT_W / 2, titleY=84,
        titleBaseline="alphabetic", titleAlign="center",
    ),
)
y_enc = alt.Y(
    "value:Q",
    scale=alt.Scale(domain=Y_DOMAIN, nice=False, zero=False),
    axis=alt.Axis(
        values=Y_TICKS, format=".1f", title=Y_TITLE,
        tickSize=15, labelFontSize=33, labelPadding=17, labelFlush=False,
        titleFontSize=46, titleAngle=270, titleX=-152, titleY=PLOT_H / 2,
        titleBaseline="alphabetic", titleAlign="center",
    ),
)

flux_line = alt.Chart(flux_df).mark_line(color="black", strokeWidth=4.2, clip=True).encode(x=x_enc, y=y_enc)
sky_line = alt.Chart(sky_df).mark_line(color="#008000", strokeWidth=1.4, clip=True).encode(x=x_enc, y=y_enc)
zero_line = alt.Chart(zero_df).mark_rule(color="#0000ff", strokeWidth=5.8).encode(y=y_enc)

chart = (
    alt.layer(flux_line, sky_line, zero_line)
    .properties(
        width=PLOT_W,
        height=PLOT_H,
        title=alt.TitleParams(
            TITLE, font=FONT, fontSize=49, fontWeight="normal", color="black",
            anchor="middle", baseline="alphabetic", offset=-23, frame="group",
        ),
        autosize=alt.AutoSizeParams(type="none"),
        padding={"left": 369, "top": 100, "right": 291, "bottom": 100},
        background="white",
    )
    .configure_view(stroke="black", strokeWidth=3.5)
    .configure_axis(
        grid=False, domain=False, tickColor="black", tickWidth=3.5,
        labelColor="black", titleColor="black", labelFont=FONT, titleFont=FONT,
        titleFontWeight="normal",
    )
)

chart.save("out.html", embed_options={"renderer": "svg", "actions": False})
